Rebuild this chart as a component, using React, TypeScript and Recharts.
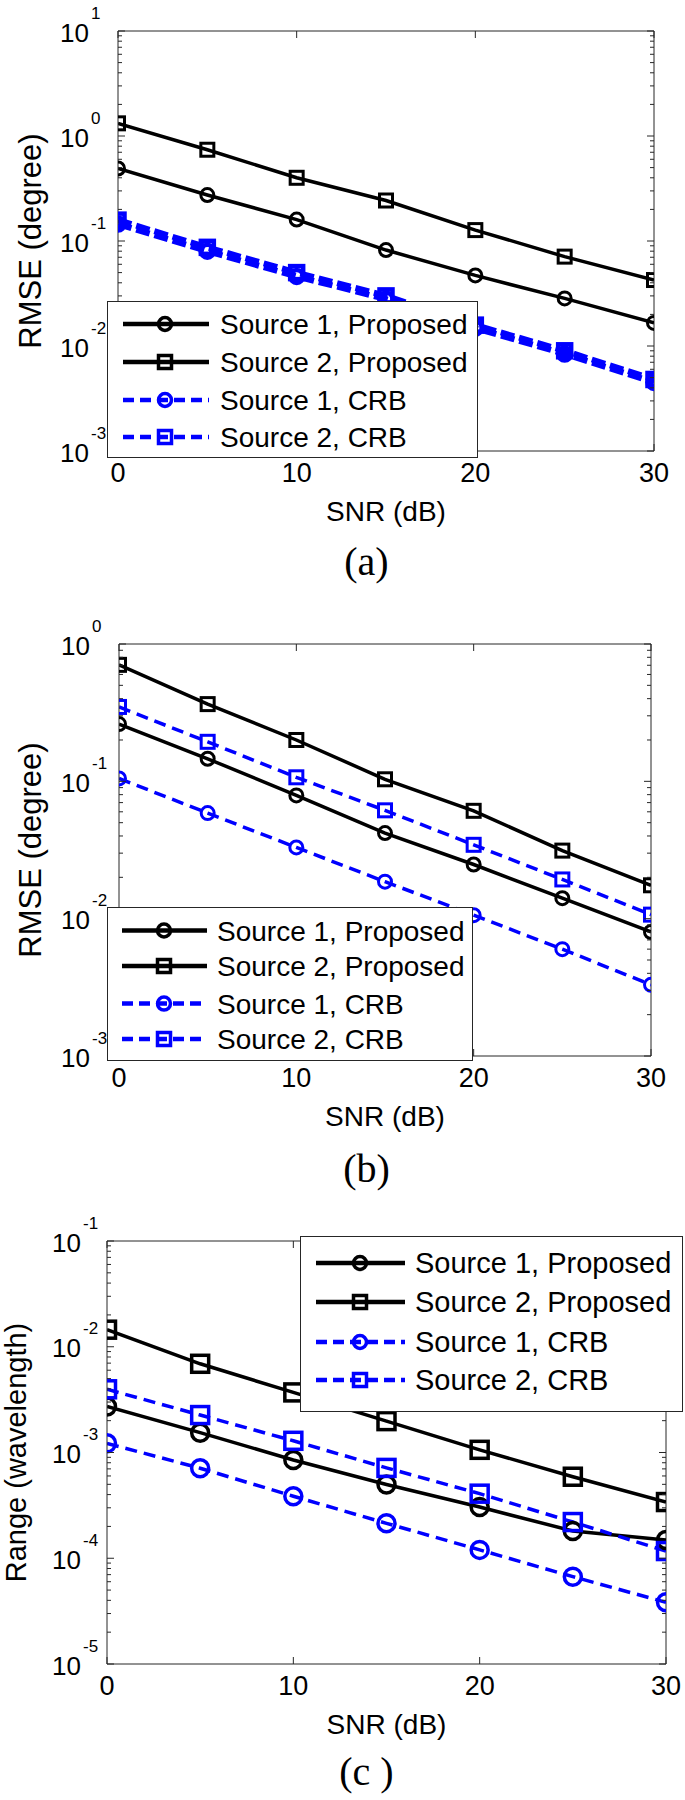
import React from 'react';
import { LineChart, Line, XAxis, YAxis, Legend, ReferenceLine } from 'recharts';

// ---------------- data ----------------
const snr = [0, 5, 10, 15, 20, 25, 30];
const xTicks = [0, 10, 20, 30];
const seriesNames = ['Source 1, Proposed', 'Source 2, Proposed', 'Source 1, CRB', 'Source 2, CRB'];
const minorMultipliers = [2, 3, 4, 5, 6, 7, 8, 9];

// (a) RMSE (degree)
const aS1Proposed = [0.49, 0.274, 0.16, 0.082, 0.047, 0.0284, 0.0166];
const aS2Proposed = [1.32, 0.74, 0.4, 0.243, 0.127, 0.071, 0.0425];
const aS1CRB = [0.145, 0.08, 0.046, 0.028, 0.0148, 0.0084, 0.0045];
const aS2CRB = [0.158, 0.087, 0.05, 0.03, 0.0158, 0.009, 0.0048];
const aDecades = [-3, -2, -1, 0, 1];

// (b) RMSE (degree)
const bS1Proposed = [0.261, 0.146, 0.079, 0.042, 0.0248, 0.0141, 0.008];
const bS2Proposed = [0.705, 0.365, 0.2, 0.1035, 0.061, 0.0313, 0.0175];
const bS1CRB = [0.105, 0.0587, 0.033, 0.0186, 0.0106, 0.006, 0.0033];
const bS2CRB = [0.348, 0.194, 0.107, 0.0615, 0.0345, 0.0193, 0.0107];
const bDecades = [-3, -2, -1, 0];

// (c) Range (wavelength)
const cS1Proposed = [0.00272, 0.00154, 0.00085, 0.000498, 0.000305, 0.000181, 0.000149];
const cS2Proposed = [0.0145, 0.0069, 0.0037, 0.00198, 0.00106, 0.00059, 0.00034];
const cS1CRB = [0.00122, 0.00071, 0.000386, 0.000214, 0.00012, 0.000067, 0.0000383];
const cS2CRB = [0.00396, 0.00226, 0.00129, 0.000715, 0.000408, 0.00022, 0.000117];
const cDecades = [-5, -4, -3, -2, -1];

// ---------------- styling ----------------
const FONT = '"Liberation Sans", Arial, Helvetica, sans-serif';
const SERIF = '"Liberation Serif", "Times New Roman", serif';
const FRAME = '#262626';
const BLUE = '#0000ff';
const XH = 80;

type LegendCfg = {
  left: number; top: number; width: number; height: number; rows: number[];
  lineX1: number; lineX2: number; markerX: number; textX: number; fontSize: number;
};
type PanelCfg = {
  id: string; top: number; height: number; plotTop: number; plotBottom: number; plotLeft: number; plotRight: number;
  labelGap: number; yLabelX: number; yLabelSize: number; yLabel: string; caption: string; captionY: number;
  s1p: number[]; s2p: number[]; s1c: number[]; s2c: number[]; decades: number[];
  half: number; blackSW: number; blueMarkerSW: number; blackLW: number; blueLW: number; dash: string;
  legend: LegendCfg;
};

const panels: PanelCfg[] = [
  {
    id: 'a', top: 0, height: 540, plotTop: 31, plotBottom: 451, plotLeft: 118, plotRight: 654,
    labelGap: 29, yLabelX: 41, yLabelSize: 31, yLabel: 'RMSE (degree)', caption: '(a)', captionY: 565,
    s1p: aS1Proposed, s2p: aS2Proposed, s1c: aS1CRB, s2c: aS2CRB, decades: aDecades,
    half: 6.5, blackSW: 3, blueMarkerSW: 4.5, blackLW: 3.5, blueLW: 6, dash: '14 5',
    legend: { left: 107, top: 301, width: 371, height: 157, rows: [23, 61, 99, 136], lineX1: 16, lineX2: 102, markerX: 58, textX: 113, fontSize: 28 },
  },
  {
    id: 'b', top: 600, height: 540, plotTop: 644, plotBottom: 1056, plotLeft: 119, plotRight: 651,
    labelGap: 29, yLabelX: 41, yLabelSize: 31, yLabel: 'RMSE (degree)', caption: '(b)', captionY: 1172,
    s1p: bS1Proposed, s2p: bS2Proposed, s1c: bS1CRB, s2c: bS2CRB, decades: bDecades,
    half: 6.5, blackSW: 3, blueMarkerSW: 3, blackLW: 3.5, blueLW: 3.5, dash: '12 7',
    legend: { left: 107, top: 907, width: 366, height: 154, rows: [23.5, 59, 96.6, 132], lineX1: 15, lineX2: 100, markerX: 57, textX: 110, fontSize: 28 },
  },
  {
    id: 'c', top: 1200, height: 560, plotTop: 1241, plotBottom: 1664, plotLeft: 107, plotRight: 666,
    labelGap: 26, yLabelX: 26, yLabelSize: 29, yLabel: 'Range (wavelength)', caption: '(c )', captionY: 1775,
    s1p: cS1Proposed, s2p: cS2Proposed, s1c: cS1CRB, s2c: cS2CRB, decades: cDecades,
    half: 8.5, blackSW: 3.5, blueMarkerSW: 3.5, blackLW: 3.5, blueLW: 3.5, dash: '12 7',
    legend: { left: 300, top: 1236, width: 383, height: 176, rows: [27, 66, 106, 144], lineX1: 16, lineX2: 105, markerX: 60, textX: 115, fontSize: 29 },
  },
];

function logTicks(decades: number[]) {
  const out: number[] = [];
  decades.forEach((d, i) => {
    out.push(Math.pow(10, d));
    if (i < decades.length - 1) minorMultipliers.forEach((m) => out.push(m * Math.pow(10, d)));
  });
  return out;
}
function isDecade(v: number) {
  const e = Math.log10(v);
  return Math.abs(e - Math.round(e)) < 1e-6;
}

// left ticks (with labels) + mirrored inward ticks on the right frame
const makeLeftTick = (gap: number, plotWidth: number) => (props: any) => {
  const { x, y, payload } = props;
  const v = payload.value;
  const major = isDecade(v);
  const len = major ? 7 : 4;
  const e = Math.round(Math.log10(v));
  return (
    <g>
      <line x1={x} y1={y} x2={x + len} y2={y} stroke={FRAME} strokeWidth={1} />
      <line x1={x + plotWidth} y1={y} x2={x + plotWidth - len} y2={y} stroke={FRAME} strokeWidth={1} />
      {major && (
        <text x={x - gap} y={y + 10.5} textAnchor="end" fontSize={26} fill="#000" fontFamily={FONT}>10</text>
      )}
      {major && (
        <text x={x - gap + 2} y={y - 12.5} textAnchor="start" fontSize={17} fill="#000" fontFamily={FONT}>{String(e)}</text>
      )}
    </g>
  );
};
// bottom ticks (with labels) + mirrored inward ticks on the top frame
const makeBottomTick = (plotHeight: number) => (props: any) => {
  const { x, y, payload } = props;
  return (
    <g>
      <line x1={x} y1={y} x2={x} y2={y - 7} stroke={FRAME} strokeWidth={1} />
      <line x1={x} y1={y - plotHeight} x2={x} y2={y - plotHeight + 7} stroke={FRAME} strokeWidth={1} />
      <text x={x} y={y + 30.5} textAnchor="middle" fontSize={27} fill="#000" fontFamily={FONT}>{String(payload.value)}</text>
    </g>
  );
};

function XLabel(props: any) {
  const vb = props.viewBox || {};
  return (
    <text x={vb.x + vb.width / 2} y={vb.y + 70} textAnchor="middle" fontSize={28} fill="#000" fontFamily={FONT}>SNR (dB)</text>
  );
}
function YLabel(props: any) {
  const vb = props.viewBox || {};
  const cy = vb.y + vb.height / 2;
  return (
    <text transform={`translate(${props.lx}, ${cy}) rotate(-90)`} x={0} y={0} textAnchor="middle" fontSize={props.size} fill="#000" fontFamily={FONT}>{props.text}</text>
  );
}

function Marker({ shape, cx, cy, half, color, sw }: any) {
  if (cx == null || cy == null) return null;
  return shape === 'circle' ? (
    <circle cx={cx} cy={cy} r={half} fill="none" stroke={color} strokeWidth={sw} />
  ) : (
    <rect x={cx - half} y={cy - half} width={2 * half} height={2 * half} fill="none" stroke={color} strokeWidth={sw} />
  );
}

const makeDot = (shape: string, color: string, half: number, sw: number) => (props: any) => {
  const { cx, cy, index } = props;
  if (cx == null || cy == null) return <g key={`d${index}`} />;
  return (
    <g key={`d${index}`}>
      <Marker shape={shape} cx={cx} cy={cy} half={half} color={color} sw={sw} />
    </g>
  );
};

function LegendBox({ cfg }: { cfg: PanelCfg }) {
  const L = cfg.legend;
  const styles = [
    { color: '#000', dash: undefined, shape: 'circle' },
    { color: '#000', dash: undefined, shape: 'square' },
    { color: BLUE, dash: '11 6', shape: 'circle' },
    { color: BLUE, dash: '11 6', shape: 'square' },
  ];
  return (
    <svg width={L.width} height={L.height} style={{ display: 'block' }}>
      <rect x={0.5} y={0.5} width={L.width - 1} height={L.height - 1} fill="#fff" stroke={FRAME} strokeWidth={1} />
      {seriesNames.map((name, i) => {
        const s = styles[i];
        const ry = L.rows[i];
        return (
          <g key={name}>
            <line x1={L.lineX1} y1={ry} x2={L.lineX2} y2={ry} stroke={s.color} strokeWidth={4.5} strokeDasharray={s.dash} />
            <Marker shape={s.shape} cx={L.markerX} cy={ry} half={6.5} color={s.color} sw={3.5} />
            <text x={L.textX} y={ry + 10} fontSize={L.fontSize} fill="#000" fontFamily={FONT}>{name}</text>
          </g>
        );
      })}
    </svg>
  );
}

function Panel({ cfg }: { cfg: PanelCfg }) {
  const data = snr.map((s, i) => ({ snr: s, s1p: cfg.s1p[i], s2p: cfg.s2p[i], s1c: cfg.s1c[i], s2c: cfg.s2c[i] }));
  const ticks = logTicks(cfg.decades);
  const yMin = Math.pow(10, cfg.decades[0]);
  const yMax = Math.pow(10, cfg.decades[cfg.decades.length - 1]);
  const margin = {
    top: cfg.plotTop - cfg.top,
    left: 0,
    right: 685 - cfg.plotRight,
    bottom: cfg.height - (cfg.plotBottom - cfg.top) - XH,
  };
  const plotWidth = cfg.plotRight - cfg.plotLeft;
  const plotHeight = cfg.plotBottom - cfg.plotTop;
  const L = cfg.legend;
  return (
    <>
      <div style={{ position: 'absolute', left: 0, top: cfg.top }}>
        <LineChart width={685} height={cfg.height} data={data} margin={margin}>
          <XAxis dataKey="snr" type="number" domain={[0, 30]} ticks={xTicks} interval={0} height={XH}
            tickSize={0} tickMargin={0} tickLine={false} axisLine={{ stroke: FRAME, strokeWidth: 1 }}
            tick={makeBottomTick(plotHeight)} label={<XLabel />} allowDataOverflow />
          <YAxis type="number" scale="log" domain={[yMin, yMax]} ticks={ticks} interval={0} width={cfg.plotLeft}
            tickSize={0} tickMargin={0} tickLine={false} axisLine={{ stroke: FRAME, strokeWidth: 1 }}
            tick={makeLeftTick(cfg.labelGap, plotWidth)}
            label={<YLabel text={cfg.yLabel} lx={cfg.yLabelX} size={cfg.yLabelSize} />} allowDataOverflow />
          <ReferenceLine x={30} stroke={FRAME} strokeWidth={1} />
          <ReferenceLine y={yMax} stroke={FRAME} strokeWidth={1} />
          <Line dataKey="s1p" type="linear" stroke="#000" strokeWidth={cfg.blackLW} isAnimationActive={false} activeDot={false}
            dot={makeDot('circle', '#000', cfg.half, cfg.blackSW)} />
          <Line dataKey="s2p" type="linear" stroke="#000" strokeWidth={cfg.blackLW} isAnimationActive={false} activeDot={false}
            dot={makeDot('square', '#000', cfg.half, cfg.blackSW)} />
          <Line dataKey="s1c" type="linear" stroke={BLUE} strokeWidth={cfg.blueLW} strokeDasharray={cfg.dash} isAnimationActive={false} activeDot={false}
            dot={makeDot('circle', BLUE, cfg.half, cfg.blueMarkerSW)} />
          <Line dataKey="s2c" type="linear" stroke={BLUE} strokeWidth={cfg.blueLW} strokeDasharray={cfg.dash} isAnimationActive={false} activeDot={false}
            dot={makeDot('square', BLUE, cfg.half, cfg.blueMarkerSW)} />
          <Legend layout="vertical" align="center" verticalAlign="middle"
            wrapperStyle={{ left: L.left, top: L.top - cfg.top, width: L.width, height: L.height, lineHeight: 0 }}
            content={() => <LegendBox cfg={cfg} />} />
        </LineChart>
      </div>
      <div style={{ position: 'absolute', left: 0, width: 685, top: cfg.captionY - 23, height: 40, lineHeight: '40px', fontSize: 40, fontFamily: SERIF, textAlign: 'center', color: '#000', paddingLeft: 48, boxSizing: 'border-box' }}>
        {cfg.caption}
      </div>
    </>
  );
}

export default function App() {
  return (
    <div style={{ position: 'absolute', left: 0, top: 0, width: 685, height: 1800, background: '#fff', overflow: 'hidden' }}>
      {panels.map((p) => (
        <Panel key={p.id} cfg={p} />
      ))}
    </div>
  );
}
